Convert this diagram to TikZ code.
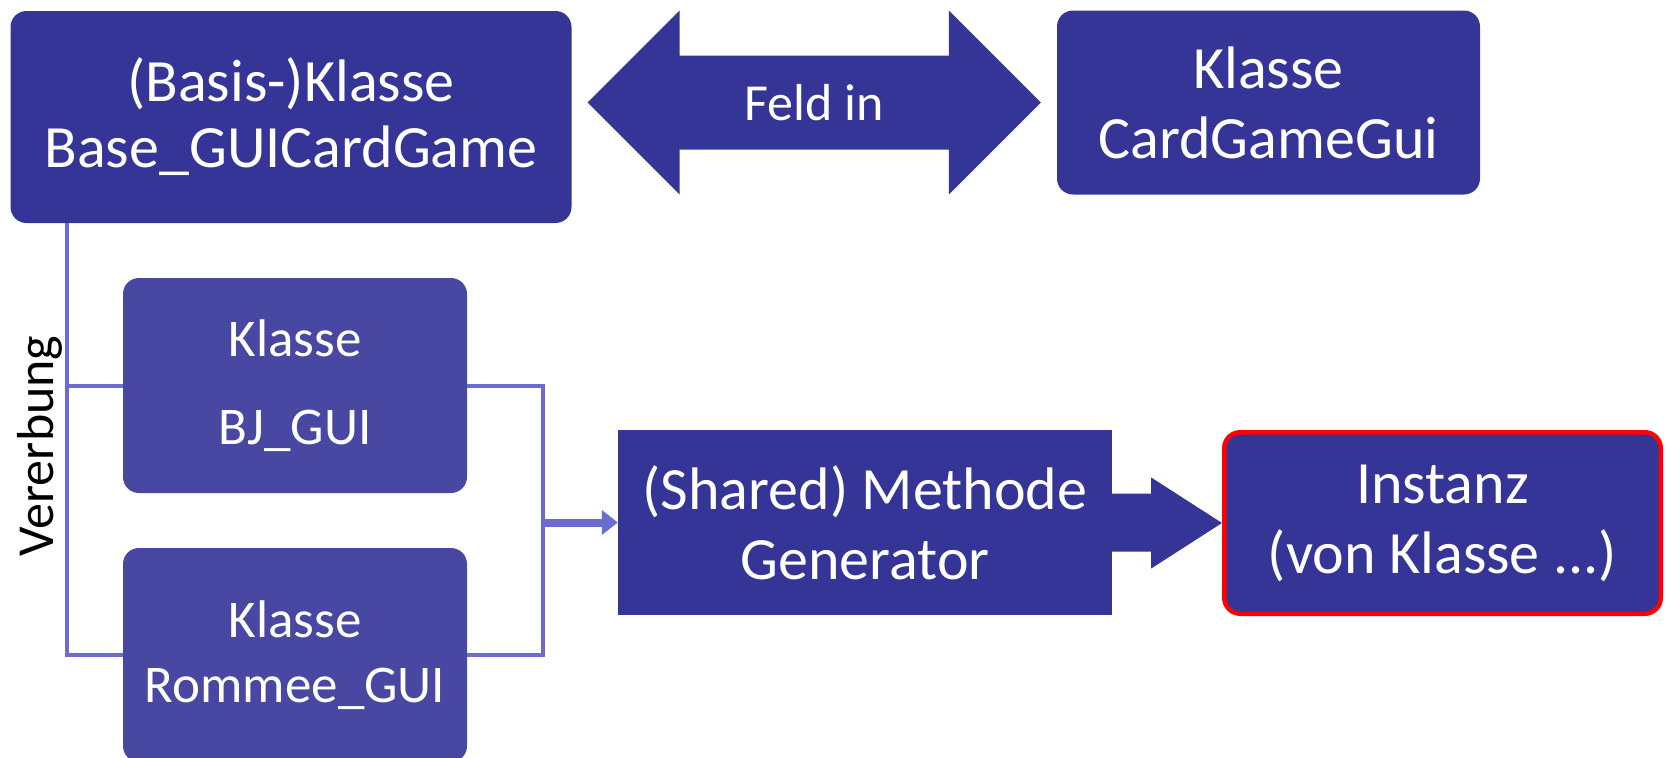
\documentclass[tikz,border=0pt]{standalone}
\usepackage{fontspec}
\setmainfont{Carlito}
\usetikzlibrary{positioning,calc,arrows.meta}

\definecolor{boxblue}{RGB}{53,53,152}
\definecolor{subblue}{RGB}{72,72,162}
\definecolor{linkblue}{RGB}{108,108,208}

\begin{document}
\begin{tikzpicture}[
	klasse/.style={fill=boxblue, text=white, rounded corners=16pt, align=center, inner sep=0pt, font=\fontsize{60}{70}\selectfont},
	unterklasse/.style={klasse, fill=subblue},
	methode/.style={klasse, rounded corners=0pt},
	instanz/.style={klasse, draw=red, line width=4.5pt},
	verbindung/.style={draw=linkblue, line width=4pt},
	pfeiltext/.style={text=white, inner sep=0pt, font=\fontsize{52}{60}\selectfont}
	]
	\useasboundingbox (0,0) rectangle (1666pt,-758pt);

	\node[klasse, minimum width=561pt, minimum height=212pt, font=\fontsize{60}{66}\selectfont] (base) at (291pt,-117pt) {(Basis-)Klasse\\Base\_GUICardGame};
	\node[klasse, minimum width=423pt, minimum height=184pt] (card) at (1268.5pt,-102.5pt) {Klasse\\CardGameGui};
	\node[unterklasse, minimum width=344pt, minimum height=215pt, font=\fontsize{53}{88}\selectfont] (bj) at (295pt,-385.5pt) {Klasse\\BJ\_GUI};
	\node[unterklasse, minimum width=344pt, minimum height=214pt, font=\fontsize{53}{65}\selectfont] (rommee) at (295pt,-655pt) {Klasse\\Rommee\_GUI};
	\node[methode, minimum width=494pt, minimum height=185pt] (gen) at (865pt,-522.5pt) {(Shared) Methode\\Generator};
	\node[instanz, minimum width=436.5pt, minimum height=181.5pt] (inst) at (1442.5pt,-523pt) {Instanz\\(von Klasse ...)};

	\coordinate (lt) at ($(base.east |- card.west)+(16pt,0)$);
	\coordinate (rt) at ($(card.west)+(-16pt,0)$);
	\fill[boxblue] (lt) -- ++(92pt,92pt) -- ++(0,-45pt) -- ($(rt)+(-92pt,47pt)$) -- ++(0,45pt) -- (rt) -- ++(-92pt,-92pt) -- ++(0,45pt) -- ($(lt)+(92pt,-47pt)$) -- ++(0,-45pt) -- cycle;
	\node[pfeiltext] (feld) at ($(lt)!0.5!(rt)$) {Feld in};

	\coordinate (trunk) at ($(base.south west)+(57pt,0)$);
	\draw[verbindung] (trunk) |- (rommee.west);
	\draw[verbindung] (trunk |- bj.west) -- (bj.west);
	\node[rotate=90, inner sep=0pt, font=\fontsize{52}{60}\selectfont] (verb) at (40pt,-446pt) {Vererbung};

	\coordinate (join) at ($(bj.east)+(76pt,0)$);
	\draw[verbindung] (bj.east) -- (join) |- (rommee.east);
	\draw[verbindung, line width=8pt, -{Triangle[length=16pt,width=24pt]}] (join |- gen.west) -- (gen.west);

	\fill[boxblue] ($(gen.east)+(-1pt,29pt)$) -- ++(40pt,0) -- ++(0,16pt) -- (inst.west) -- ($(gen.east)+(39pt,-46pt)$) -- ++(0,17pt) -- ($(gen.east)+(-1pt,-29pt)$) -- cycle;
\end{tikzpicture}
\end{document}
